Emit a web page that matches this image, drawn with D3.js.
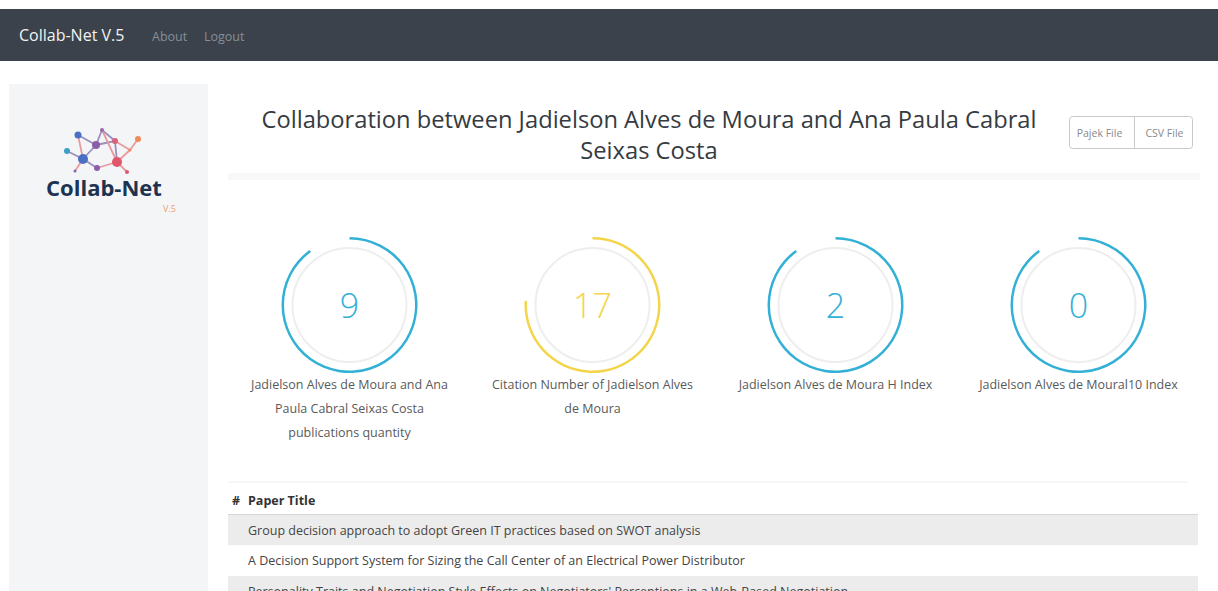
<!DOCTYPE html>
<html>
<head>
<meta charset="utf-8">
<script src="https://cdn.jsdelivr.net/npm/d3@7"></script>
<style>
  body { margin: 0; background: #fff; font-family: "Open Sans", "Noto Sans", sans-serif; }
  svg { display: block; }
</style>
</head>
<body>
<script>
"use strict";

(function(){

  window.addEventListener("load", init);

  // values
  const navLinks = ["About", "Logout"];
  const titleLines = ["Collaboration between Jadielson Alves de Moura and Ana Paula Cabral", "Seixas Costa"];
  const fileButtons = ["Pajek File", "CSV File"];
  const gaugeValues = [9, 17, 2, 0];
  const gaugePercent = [90, 76, 90, 90];
  const gaugeColors = ["#33b0d5", "#f3d54a", "#33b0d5", "#33b0d5"];
  const gaugeLabels = [
    ["Jadielson Alves de Moura and Ana", "Paula Cabral Seixas Costa", "publications quantity"],
    ["Citation Number of Jadielson Alves", "de Moura"],
    ["Jadielson Alves de Moura H Index"],
    ["Jadielson Alves de Moural10 Index"]
  ];
  const tableHeader = ["#", "Paper Title"];
  const paperTitles = [
    "Group decision approach to adopt Green IT practices based on SWOT analysis",
    "A Decision Support System for Sizing the Call Center of an Electrical Power Distributor",
    "Personality Traits and Negotiation Style Effects on Negotiators' Perceptions in a Web-Based Negotiation"
  ];

  // logo graph (relative to logo origin)
  const logoNodes = [
    {x: 78, y: 135, r: 3.5, c: "#4a6fc4"},
    {x: 67, y: 151, r: 3, c: "#3aa0c8"},
    {x: 83, y: 159, r: 5, c: "#4a6fc4"},
    {x: 96, y: 145, r: 4, c: "#8a5ea8"},
    {x: 102, y: 130, r: 2, c: "#9a6aa8"},
    {x: 115, y: 141, r: 3, c: "#d9627a"},
    {x: 117, y: 162, r: 5, c: "#e0566a"},
    {x: 97, y: 168, r: 3, c: "#8a5ea8"},
    {x: 138, y: 139, r: 3, c: "#ef8a5a"},
    {x: 127, y: 172, r: 2, c: "#e0566a"},
    {x: 75, y: 171, r: 1.5, c: "#7a6ab8"},
    {x: 130, y: 150, r: 1.5, c: "#ef8a5a"}
  ];
  const logoLinks = [[0,3],[1,2],[2,3],[3,4],[4,5],[3,5],[5,6],[2,7],[7,6],[6,9],[4,6],[5,11],[11,8],[11,6],[2,10],[0,2]];

  const W = 1218, H = 591;
  const font = '"Open Sans", "Noto Sans", sans-serif';
  let svg = "";

  function init() {
    svg = d3.select("body").append("svg")
        .attr("width", W)
        .attr("height", H)
        .style("font-family", font);

    drawNavbar();
    drawSidebar();
    drawHeader();
    drawGauges();
    drawTable();
  }

  function drawNavbar() {
    svg.append("rect")
        .attr("x", 0).attr("y", 9)
        .attr("width", W).attr("height", 52)
        .attr("fill", "#3b424c");

    svg.append("text")
        .attr("x", 19).attr("y", 41)
        .attr("fill", "#f2f2f2")
        .style("font-size", "16px")
        .text("Collab-Net V.5");

    const linkX = d3.scaleOrdinal().domain(navLinks).range([152, 204]);
    svg.selectAll(".navlink")
        .data(navLinks)
        .enter()
        .append("text")
          .attr("class", "navlink")
          .attr("x", d => linkX(d))
          .attr("y", 41)
          .attr("fill", "#878e97")
          .style("font-size", "12.5px")
          .text(d => d);
  }

  function drawSidebar() {
    svg.append("rect")
        .attr("x", 9).attr("y", 84)
        .attr("width", 199).attr("height", H - 84)
        .attr("fill", "#f3f5f7");

    const g = svg.append("g");
    g.selectAll(".link")
        .data(logoLinks)
        .enter()
        .append("line")
          .attr("x1", d => logoNodes[d[0]].x)
          .attr("y1", d => logoNodes[d[0]].y)
          .attr("x2", d => logoNodes[d[1]].x)
          .attr("y2", d => logoNodes[d[1]].y)
          .attr("stroke", (d, i) => i < 8 ? "#9b8fc0" : "#e99aa0")
          .attr("stroke-width", 1.8);

    g.selectAll(".node")
        .data(logoNodes)
        .enter()
        .append("circle")
          .attr("cx", d => d.x)
          .attr("cy", d => d.y)
          .attr("r", d => d.r)
          .attr("fill", d => d.c);

    g.append("text")
        .attr("x", 104).attr("y", 196)
        .attr("text-anchor", "middle")
        .attr("fill", "#1e3350")
        .style("font-size", "22px")
        .style("font-weight", "700")
        .text("Collab-Net");

    g.append("text")
        .attr("x", 163).attr("y", 212)
        .attr("fill", "#f0a070")
        .style("font-size", "9px")
        .text("V.5");
  }

  function drawHeader() {
    svg.selectAll(".title")
        .data(titleLines)
        .enter()
        .append("text")
          .attr("class", "title")
          .attr("x", 649)
          .attr("y", (d, i) => 128 + i * 31)
          .attr("text-anchor", "middle")
          .attr("fill", "#353b42")
          .style("font-size", "23.7px")
          .text(d => d);

    // button group
    const bx = d3.scaleBand().domain(fileButtons).range([1069, 1199]);
    const btn = svg.append("g");
    btn.append("rect")
        .attr("x", 1069.5).attr("y", 116.5)
        .attr("width", 123).attr("height", 32)
        .attr("rx", 3)
        .attr("fill", "#fff")
        .attr("stroke", "#c9c9c9");
    btn.append("line")
        .attr("x1", 1134.5).attr("x2", 1134.5)
        .attr("y1", 117).attr("y2", 148)
        .attr("stroke", "#c9c9c9");
    btn.selectAll(".btntext")
        .data(fileButtons)
        .enter()
        .append("text")
          .attr("x", d => bx(d) + bx.bandwidth() / 2 - 2)
          .attr("y", 137)
          .attr("text-anchor", "middle")
          .attr("fill", "#8a8a8a")
          .style("font-size", "10.5px")
          .text(d => d);

    // faint separator band under header
    svg.append("rect")
        .attr("x", 228).attr("y", 173)
        .attr("width", 972).attr("height", 7)
        .attr("fill", "#f8f8f8");
  }

  function drawGauges() {
    const x = d3.scaleBand()
        .domain(d3.range(gaugeValues.length))
        .range([228, 1200]);
    const angle = d3.scaleLinear().domain([0, 100]).range([0, 2 * Math.PI]);
    const cy = 305;

    const arc = d3.arc()
        .innerRadius(65.5)
        .outerRadius(68)
        .startAngle(0)
        .endAngle(d => angle(d));

    const g = svg.selectAll(".gauge")
        .data(gaugeValues)
        .enter()
        .append("g")
          .attr("class", "gauge")
          .attr("transform", (d, i) => "translate(" + (x(i) + x.bandwidth() / 2) + "," + cy + ")");

    g.append("circle")
        .attr("r", 57)
        .attr("fill", "none")
        .attr("stroke", "#eeeeee")
        .attr("stroke-width", 2);

    g.append("path")
        .attr("d", (d, i) => arc(gaugePercent[i]))
        .attr("fill", (d, i) => gaugeColors[i]);

    g.append("text")
        .attr("y", 13)
        .attr("text-anchor", "middle")
        .attr("fill", (d, i) => gaugeColors[i])
        .style("font-size", "34px")
        .style("font-weight", "300")
        .text(d => d);

    g.selectAll(".lbl")
        .data((d, i) => gaugeLabels[i])
        .enter()
        .append("text")
          .attr("y", (d, j) => 84 + j * 24)
          .attr("text-anchor", "middle")
          .attr("fill", "#5a5a5a")
          .style("font-size", "12.5px")
          .text(d => d);
  }

  function drawTable() {
    svg.append("rect")
        .attr("x", 228).attr("y", 481)
        .attr("width", 960).attr("height", 2)
        .attr("fill", "#f6f6f6");

    svg.append("text")
        .attr("x", 232).attr("y", 505)
        .attr("fill", "#333")
        .style("font-size", "12.5px")
        .style("font-weight", "700")
        .text(tableHeader[0]);
    svg.append("text")
        .attr("x", 248).attr("y", 505)
        .attr("fill", "#333")
        .style("font-size", "12.5px")
        .style("font-weight", "700")
        .text(tableHeader[1]);

    svg.append("line")
        .attr("x1", 228).attr("x2", 1198)
        .attr("y1", 514.5).attr("y2", 514.5)
        .attr("stroke", "#d6d6d6");

    const y = d3.scaleBand()
        .domain(d3.range(paperTitles.length))
        .range([515, 515 + 30.5 * paperTitles.length]);

    const rows = svg.selectAll(".row")
        .data(paperTitles)
        .enter()
        .append("g")
          .attr("class", "row")
          .attr("transform", (d, i) => "translate(0," + y(i) + ")");

    rows.append("rect")
        .attr("x", 228)
        .attr("width", 970)
        .attr("height", y.bandwidth())
        .attr("fill", (d, i) => i % 2 === 0 ? "#ececec" : "#fff");

    rows.append("text")
        .attr("x", 248)
        .attr("y", 19.5)
        .attr("fill", "#444")
        .style("font-size", "12.5px")
        .text(d => d);
  }

})()
</script>
</body>
</html>
